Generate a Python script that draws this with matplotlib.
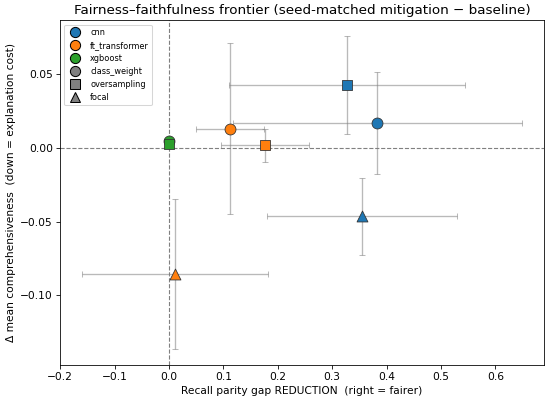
import numpy as np
import matplotlib
matplotlib.use("Agg")
import matplotlib.pyplot as plt
from matplotlib.lines import Line2D

# data (rows: model, cols: class_weight, oversampling, focal)
models = ["cnn", "ft_transformer", "xgboost"]
methods = ["class_weight", "oversampling", "focal"]
model_colors = ["#1f77b4", "#ff7f0e", "#2ca02c"]
method_markers = ["o", "s", "^"]

gap_red = [[0.383, 0.328, 0.355],
           [0.112, 0.176, 0.011],
           [0.000, 0.000, np.nan]]
gap_err = [[0.266, 0.217, 0.174],
           [0.063, 0.081, 0.171],
           [0.0, 0.0, np.nan]]
d_comp = [[0.0167, 0.0426, -0.0465],
          [0.0130, 0.0016, -0.0855],
          [0.0045, 0.0026, np.nan]]
d_comp_err = [[0.0345, 0.0330, 0.0260],
              [0.0580, 0.0113, 0.0510],
              [0.0, 0.0, np.nan]]

fig, ax = plt.subplots(figsize=(7.5, 5.482), dpi=550 / 7.5)
fig.subplots_adjust(left=0.109, right=0.989, bottom=0.092, top=0.949)

ax.axhline(0, color="gray", ls="--", lw=1.1, zorder=1)
ax.axvline(0, color="gray", ls="--", lw=1.1, zorder=1)

for i, m in enumerate(models):
    for j, meth in enumerate(methods):
        x, y = gap_red[i][j], d_comp[i][j]
        if np.isnan(x):
            continue
        ax.errorbar(x, y, xerr=gap_err[i][j], yerr=d_comp_err[i][j], fmt="none",
                    ecolor="gray", alpha=0.55, elinewidth=1.3, capsize=2.5, zorder=2)
        ax.scatter(x, y, s=115, marker=method_markers[j], color=model_colors[i],
                   edgecolor="#333333", linewidth=0.8, zorder=3)

handles = []
for i, m in enumerate(models):
    handles.append(Line2D([], [], ls="none", marker="o", markersize=10,
                          markerfacecolor=model_colors[i], markeredgecolor="black", label=m))
for j, meth in enumerate(methods):
    handles.append(Line2D([], [], ls="none", marker=method_markers[j], markersize=10,
                          markerfacecolor="gray", markeredgecolor="black", label=meth))
ax.legend(handles=handles, loc="upper left", fontsize=8)

ax.tick_params(labelsize=10.4)
ax.set_xlabel("Recall parity gap REDUCTION  (right = fairer)", fontsize=10.4)
ax.set_ylabel("\u0394 mean comprehensiveness  (down = explanation cost)", fontsize=10.4)
ax.set_title("Fairness\u2013faithfulness frontier (seed-matched mitigation \u2212 baseline)",
             fontsize=13.3)

plt.savefig("out.png")
